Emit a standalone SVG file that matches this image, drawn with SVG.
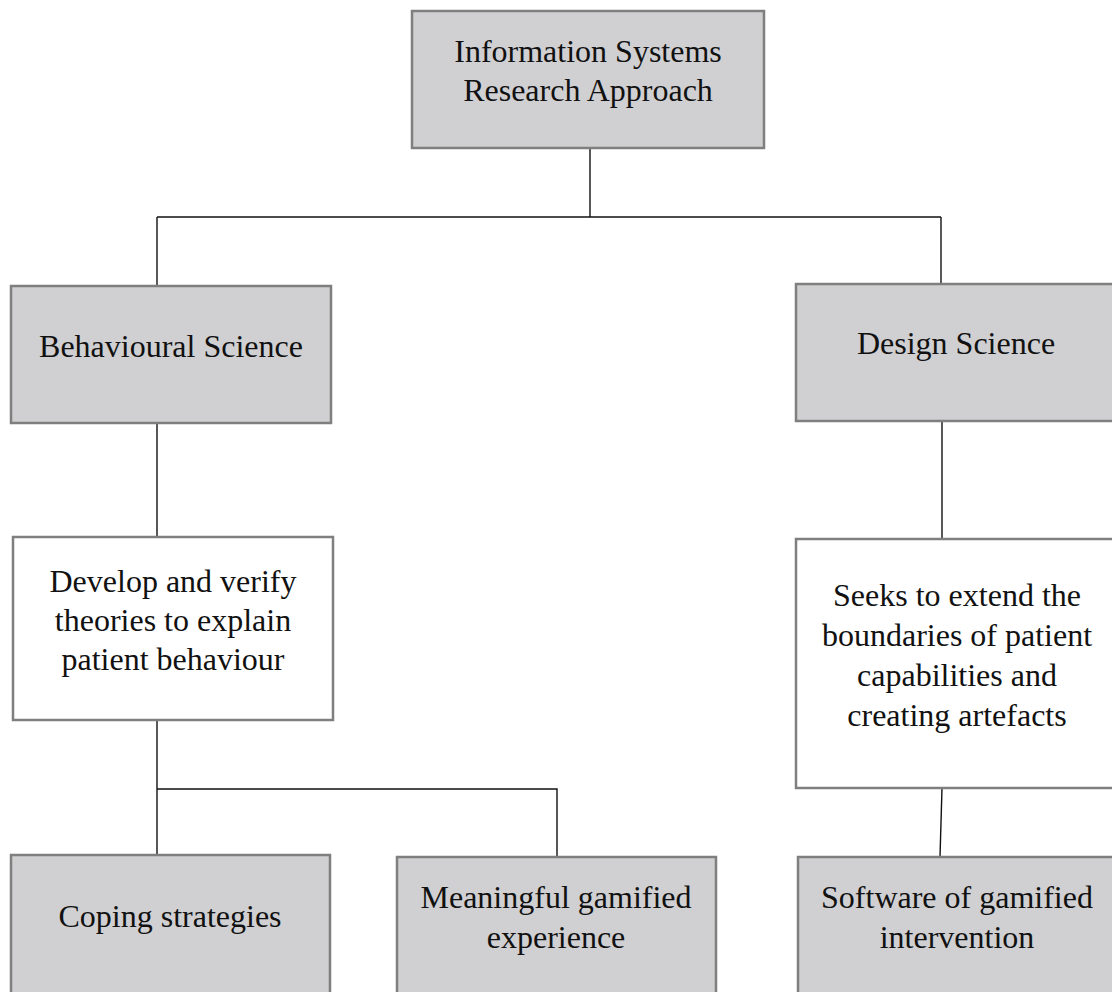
<svg xmlns="http://www.w3.org/2000/svg" width="1112" height="992" viewBox="0 0 1112 992">
  <style>
    .box { stroke: #7f7f7f; stroke-width: 2.5; }
    .grey { fill: #d0cfd1; }
    .white { fill: #ffffff; }
    .label { font-family: "Liberation Serif", "Times New Roman", serif; font-size: 32px; fill: #111111; text-anchor: middle; }
    .conn { stroke: #111111; stroke-width: 1.4; fill: none; }
  </style>
  <rect width="1112" height="992" fill="#ffffff"/>

  <!-- connectors -->
  <g id="connectors">
    <line class="conn" x1="590" y1="148" x2="590" y2="217"/>
    <line class="conn" x1="157" y1="217" x2="941" y2="217"/>
    <line class="conn" x1="157" y1="217" x2="157" y2="286"/>
    <line class="conn" x1="941" y1="217" x2="941" y2="284"/>
    <line class="conn" x1="157" y1="423" x2="157" y2="537"/>
    <line class="conn" x1="942" y1="421" x2="942" y2="539"/>
    <line class="conn" x1="157" y1="720" x2="157" y2="856"/>
    <polyline class="conn" points="157,789 557,789 557,857"/>
    <line class="conn" x1="942" y1="788" x2="940" y2="857"/>
  </g>

  <g id="is-research">
    <rect class="box grey" x="412" y="11" width="352" height="137"/>
    <text class="label" x="588" y="62">Information Systems</text>
    <text class="label" x="588" y="101">Research Approach</text>
  </g>

  <g id="behavioural-science">
    <rect class="box grey" x="11" y="286" width="320" height="137"/>
    <text class="label" x="171" y="357">Behavioural Science</text>
  </g>

  <g id="design-science">
    <rect class="box grey" x="796" y="284" width="322" height="137"/>
    <text class="label" x="956" y="354">Design Science</text>
  </g>

  <g id="develop-theories">
    <rect class="box white" x="13" y="537" width="320" height="183"/>
    <text class="label" x="173" y="592">Develop and verify</text>
    <text class="label" x="173" y="631">theories to explain</text>
    <text class="label" x="173" y="670">patient behaviour</text>
  </g>

  <g id="extend-boundaries">
    <rect class="box white" x="796" y="539" width="322" height="249"/>
    <text class="label" x="957" y="606">Seeks to extend the</text>
    <text class="label" x="957" y="646">boundaries of patient</text>
    <text class="label" x="957" y="686">capabilities and</text>
    <text class="label" x="957" y="726">creating artefacts</text>
  </g>

  <g id="coping-strategies">
    <rect class="box grey" x="11" y="855" width="319" height="145"/>
    <text class="label" x="170" y="927">Coping strategies</text>
  </g>

  <g id="gamified-experience">
    <rect class="box grey" x="397" y="857" width="319" height="145"/>
    <text class="label" x="556" y="908">Meaningful gamified</text>
    <text class="label" x="556" y="948">experience</text>
  </g>

  <g id="gamified-software">
    <rect class="box grey" x="798" y="857" width="322" height="145"/>
    <text class="label" x="957" y="908">Software of gamified</text>
    <text class="label" x="957" y="948">intervention</text>
  </g>
</svg>
